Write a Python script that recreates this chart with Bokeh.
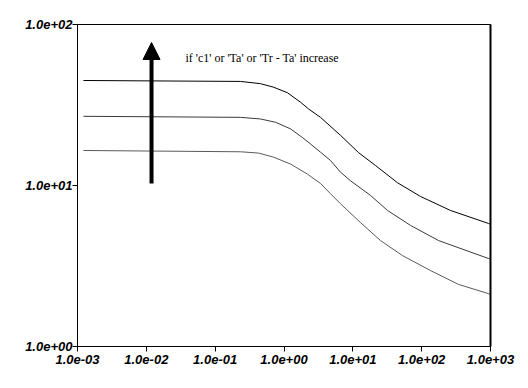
from bokeh.plotting import figure
from bokeh.models import FixedTicker, LogAxis, Label, Arrow, NormalHead
from bokeh.embed import file_html
from bokeh.resources import INLINE

# ---- data ----
x_top = [0.00122, 0.233, 0.456, 0.705, 1.12, 1.74, 2.27, 3.39, 6.62, 12.1, 21.4, 44.6, 96.2, 262, 935, 1000]
y_top = [44.9, 44.3, 42.9, 40.8, 37.7, 32.9, 29.9, 26.5, 20.5, 16.0, 13.3, 10.4, 8.55, 7.0, 5.81, 5.73]

x_mid = [0.00122, 0.233, 0.456, 0.754, 1.24, 1.84, 2.43, 3.39, 4.74, 6.62, 9.25, 18.1, 31.9, 68.9, 176, 935, 1000]
y_mid = [26.9, 26.5, 25.9, 24.7, 22.5, 19.9, 18.1, 16.1, 14.3, 12.1, 10.7, 8.67, 7.0, 5.65, 4.55, 3.52, 3.48]

x_bot = [0.00122, 0.233, 0.427, 0.705, 1.24, 2.17, 3.39, 4.74, 6.62, 12.9, 25.2, 52.7, 135, 343, 935, 1000]
y_bot = [16.5, 16.2, 15.9, 15.0, 13.6, 11.8, 10.3, 8.89, 7.70, 5.89, 4.55, 3.67, 2.96, 2.43, 2.13, 2.10]

x_ticks = [0.001, 0.01, 0.1, 1, 10, 100, 1000]
x_tick_labels = ["1.0e-03", "1.0e-02", "1.0e-01", "1.0e+00", "1.0e+01", "1.0e+02", "1.0e+03"]
y_ticks = [1, 10, 100]
y_tick_labels = ["1.0e+00", "1.0e+01", "1.0e+02"]

annotation_text = "if 'c1' or 'Ta' or 'Tr - Ta' increase"
annotation_x, annotation_y = 0.037, 62.0
arrow_x, arrow_y0, arrow_y1 = 0.0119, 10.3, 77.3

series = [
    (x_top, y_top, "#000000"),
    (x_mid, y_mid, "#3a3a3a"),
    (x_bot, y_bot, "#5a5a5a"),
]

p = figure(width=520, height=380, x_axis_type="log", y_axis_type="log",
           x_range=(1e-3, 1e3), y_range=(1, 100),
           output_backend="svg", toolbar_location=None,
           min_border_left=77, min_border_right=30, min_border_top=24, min_border_bottom=34)

p.background_fill_color = "white"
p.border_fill_color = "white"
p.outline_line_color = "black"
p.outline_line_width = 1
p.xgrid.visible = False
p.ygrid.visible = False

for xs, ys, c in series:
    p.line(x=xs, y=ys, line_color=c, line_width=1)

tick_font = "Liberation Sans"
for ax, ticks, labels in ((p.xaxis[0], x_ticks, x_tick_labels), (p.yaxis[0], y_ticks, y_tick_labels)):
    ax.ticker = FixedTicker(ticks=ticks, minor_ticks=[])
    ax.major_label_overrides = {t: l for t, l in zip(ticks, labels)}
    ax.axis_line_color = "black"
    ax.axis_line_width = 1
    ax.major_tick_line_color = "black"
    ax.major_tick_in = 0
    ax.major_tick_out = 5
    ax.minor_tick_line_color = None
    ax.major_label_text_font = tick_font
    ax.major_label_text_font_style = "bold italic"
    ax.major_label_text_font_size = "13px"
    ax.major_label_text_color = "black"

p.xaxis[0].major_label_standoff = 3
p.yaxis[0].major_label_standoff = 0

right = LogAxis(ticker=FixedTicker(ticks=[]), axis_line_width=2, axis_line_color="black",
                major_tick_line_color=None, minor_tick_line_color=None)
p.add_layout(right, "right")

p.add_layout(Arrow(end=NormalHead(size=17, fill_color="black", line_color="black"),
                   x_start=arrow_x, y_start=arrow_y0, x_end=arrow_x, y_end=arrow_y1,
                   line_width=4, line_color="black"))

p.add_layout(Label(x=annotation_x, y=annotation_y, text=annotation_text,
                   text_font="Liberation Serif", text_font_size="12px",
                   text_color="black", text_baseline="alphabetic"))

open("out.html", "w").write(file_html(p, INLINE))
